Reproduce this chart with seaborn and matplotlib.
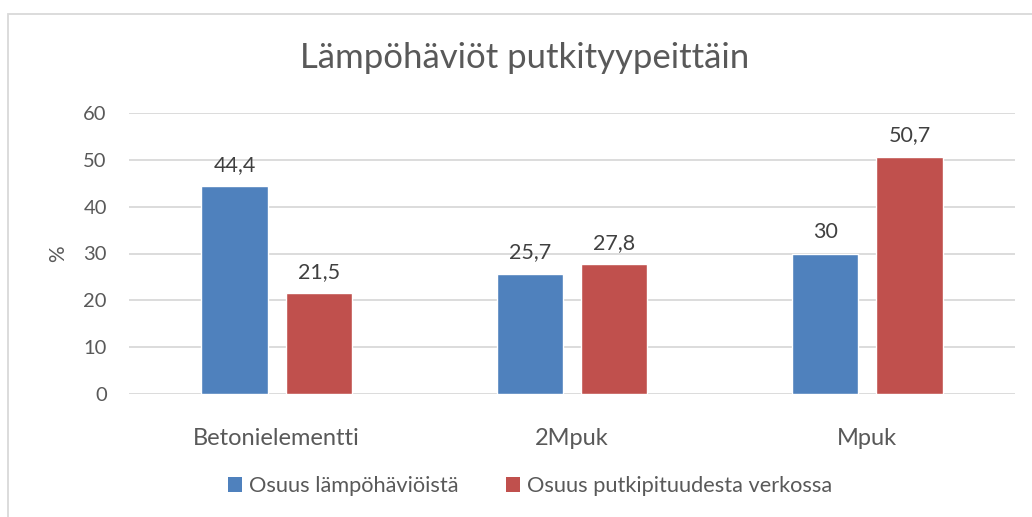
import matplotlib
matplotlib.use("Agg")
import matplotlib.pyplot as plt
import seaborn as sns
import pandas as pd
from matplotlib.patches import Rectangle, Patch

categories = ["Betonielementti", "2Mpuk", "Mpuk"]
series_names = ["Osuus lämpöhäviöistä", "Osuus putkipituudesta verkossa"]
heat_loss = [44.4, 25.7, 30]
pipe_length = [21.5, 27.8, 50.7]
title = "Lämpöhäviöt putkityypeittäin"
y_ticks = [0, 10, 20, 30, 40, 50, 60]

colors = ["#4F81BD", "#C0504D"]
text_color = "#595959"

df = pd.DataFrame({
    "cat": categories * 2,
    "series": [series_names[0]] * 3 + [series_names[1]] * 3,
    "value": heat_loss + pipe_length,
})

sns.set_theme(style="white")
plt.rcParams["font.family"] = ["Lato", "DejaVu Sans"]

W, H = 1032, 517
fig = plt.figure(figsize=(W / 100, H / 100), dpi=100)
ax = fig.add_axes([129 / W, 1 - 394 / H, (1015 - 129) / W, (394 - 113) / H])

sns.barplot(data=df, x="cat", y="value", hue="series", palette=colors,
            width=0.57, gap=0.21, ax=ax, legend=False, saturation=1)

ax.set_ylim(0, 60)
ax.set_xlim(-0.5, 2.5)
ax.set_yticks(y_ticks)
ax.set_yticklabels([str(t) for t in y_ticks], color=text_color, fontsize=14.5)
ax.tick_params(axis="y", length=0, pad=16)
ax.tick_params(axis="x", length=0, pad=24.5, labelsize=17, labelcolor=text_color)
ax.set_xlabel("")
ax.set_ylabel("%", color=text_color, fontsize=15, labelpad=11)
ax.grid(axis="y", color="#D9D9D9", linewidth=1.3)
ax.set_axisbelow(True)
for s in ax.spines.values():
    s.set_visible(False)

for cont in ax.containers:
    labels = [f"{v:g}".replace(".", ",") for v in cont.datavalues]
    ax.bar_label(cont, labels=labels, padding=8, color="#404040", fontsize=15.5)

fig.text(525 / W, 1 - 58 / H, title, ha="center", va="center",
         fontsize=25, color=text_color)

handles = [Patch(facecolor=c, edgecolor="none") for c in colors]
fig.legend(handles, series_names, loc="center", bbox_to_anchor=(530 / W, 1 - 486 / H),
           ncol=2, frameon=False, fontsize=15.7, labelcolor=text_color,
           handlelength=0.65, handleheight=0.65, handletextpad=0.3, columnspacing=2.2)

fig.patches.append(Rectangle((8 / W, -0.1), 2, 1.1 - 14 / H - 0.0,
                             transform=fig.transFigure, fill=False,
                             edgecolor="#D9D9D9", linewidth=1.3))

fig.savefig("out.png", dpi=100)
